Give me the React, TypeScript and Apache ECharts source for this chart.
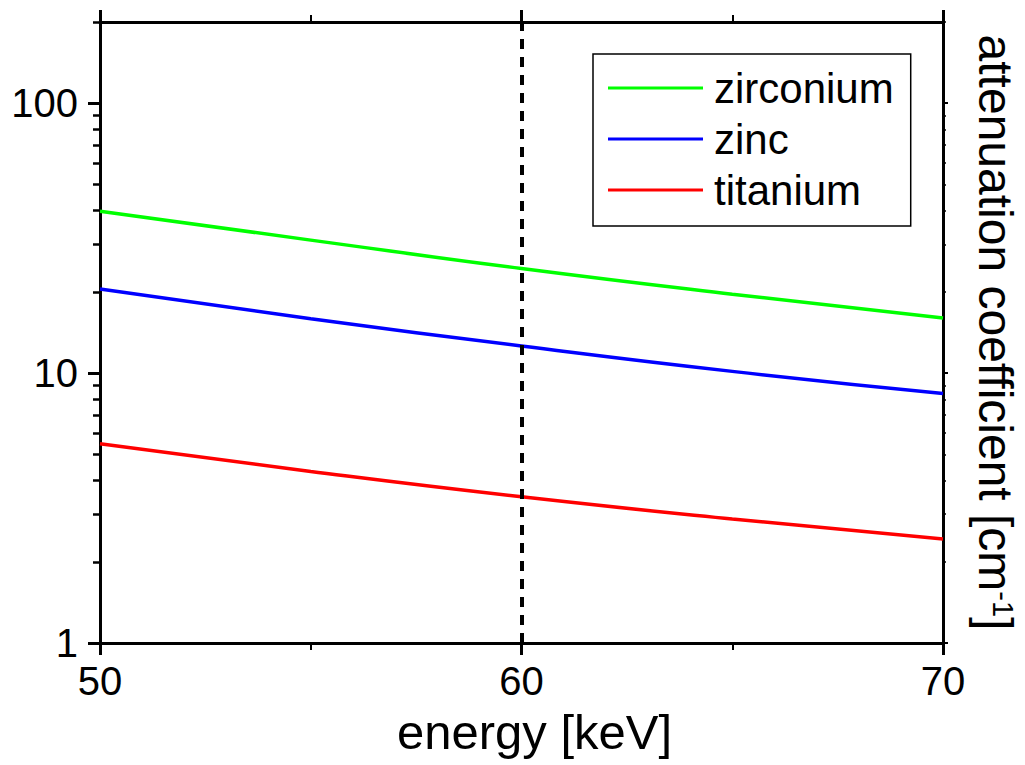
import React, { useEffect, useRef } from "react";
import * as echarts from "echarts";

const energy = [50, 55, 60, 65, 70];
const zirconium = [39.8, 31.1, 24.4, 19.6, 16.0];
const zinc = [20.5, 15.9, 12.6, 10.15, 8.4];
const titanium = [5.47, 4.32, 3.48, 2.88, 2.43];
const seriesNames = ["zirconium", "zinc", "titanium"];
const seriesColors = ["#00ff00", "#0000ff", "#ff0000"];
const yMajorTicks = [1, 10, 100];
const yMinorTicks = [2, 3, 4, 5, 6, 7, 8, 9, 20, 30, 40, 50, 60, 70, 80, 90, 200];
const markerEnergy = [60];
const xName = "energy [keV]";
const yName = "attenuation coefficient [cm{sup|-1}]";

const FONT = "Liberation Sans, Arial, sans-serif";

export default function App() {
  const ref = useRef<HTMLDivElement>(null);
  useEffect(() => {
    if (!ref.current) return;
    const chart = echarts.init(ref.current, undefined, { renderer: "svg" });
    const values = [zirconium, zinc, titanium];
    const axisLine = { show: true, lineStyle: { color: "#000", width: 3 } };
    const xBase = {
      type: "value",
      min: 50,
      max: 70,
      interval: 10,
      splitLine: { show: false },
      axisLine,
      axisTick: { show: true, length: 12, lineStyle: { width: 3, color: "#000" } },
      minorTick: { show: true, splitNumber: 2, length: 7, lineStyle: { width: 2, color: "#000" } },
    };
    const yBase = {
      type: "log",
      logBase: 10,
      min: 1,
      max: 200,
      splitLine: { show: false },
      minorSplitLine: { show: false },
    };
    chart.setOption({
      animation: false,
      textStyle: { fontFamily: FONT },
      grid: { left: 100, right: 82, top: 22, bottom: 122, containLabel: false, outerBoundsMode: "none" },
      legend: {
        orient: "vertical",
        left: 593,
        top: 54,
        data: seriesNames,
        icon: "rect",
        borderColor: "#000",
        borderWidth: 1.5,
        padding: [12, 17, 14, 15],
        itemWidth: 95,
        itemHeight: 3,
        itemGap: 7,
        textStyle: { fontSize: 42, lineHeight: 44, color: "#000", fontFamily: FONT, padding: [0, 0, 0, 6] },
      },
      xAxis: [
        {
          ...xBase,
          position: "bottom",
          name: xName,
          nameLocation: "middle",
          nameGap: 64,
          nameTextStyle: { fontSize: 49, color: "#000", fontFamily: FONT, padding: [0, 0, 0, 26] },
          axisLabel: { fontSize: 40, color: "#000", margin: 18, fontFamily: FONT },
        },
        {
          ...xBase,
          position: "top",
          axisLabel: { show: false },
        },
      ],
      yAxis: [
        {
          ...yBase,
          position: "left",
          axisLine,
          axisTick: { show: true, length: 12, customValues: yMajorTicks, lineStyle: { width: 3, color: "#000" } },
          axisLabel: {
            customValues: yMajorTicks,
            fontSize: 40,
            color: "#000",
            margin: 22,
            fontFamily: FONT,
            formatter: (v: number) => String(Math.round(v)),
          },
        },
        {
          ...yBase,
          position: "left",
          axisLine: { show: false },
          axisTick: { show: true, length: 7, customValues: yMinorTicks, lineStyle: { width: 2.5, color: "#000" } },
          axisLabel: { show: false },
        },
        {
          ...yBase,
          position: "right",
          axisLine,
          axisTick: { show: true, length: 5, customValues: yMajorTicks, lineStyle: { width: 2, color: "#000" } },
          axisLabel: { show: false },
          name: yName,
          nameLocation: "middle",
          nameRotate: -90,
          nameGap: 30,
          nameTextStyle: {
            fontSize: 48,
            lineHeight: 44,
            color: "#000",
            fontFamily: FONT,
            rich: { sup: { fontSize: 29, lineHeight: 30, verticalAlign: "top", padding: [0, 0, 12, 0], fontFamily: FONT, color: "#000" } },
          },
        },
        {
          ...yBase,
          position: "right",
          axisLine: { show: false },
          axisTick: { show: true, length: 3, customValues: yMinorTicks, lineStyle: { width: 1.5, color: "#000" } },
          axisLabel: { show: false },
        },
      ],
      series: seriesNames.map((name, i) => ({
        name,
        type: "line",
        xAxisIndex: 0,
        yAxisIndex: 0,
        data: energy.map((e, j) => [e, values[i][j]]),
        showSymbol: false,
        symbol: "none",
        smooth: true,
        lineStyle: { color: seriesColors[i], width: 3.5 },
        itemStyle: { color: seriesColors[i] },
        markLine:
          i === 0
            ? {
                silent: true,
                symbol: "none",
                label: { show: false },
                lineStyle: { color: "#000", width: 4, type: [10, 8] },
                data: markerEnergy.map((x) => ({ xAxis: x })),
              }
            : undefined,
      })),
    });
    return () => chart.dispose();
  }, []);
  return (
    <div
      ref={ref}
      style={{ position: "absolute", left: 0, top: 0, width: 1025, height: 765, background: "#fff" }}
    />
  );
}
